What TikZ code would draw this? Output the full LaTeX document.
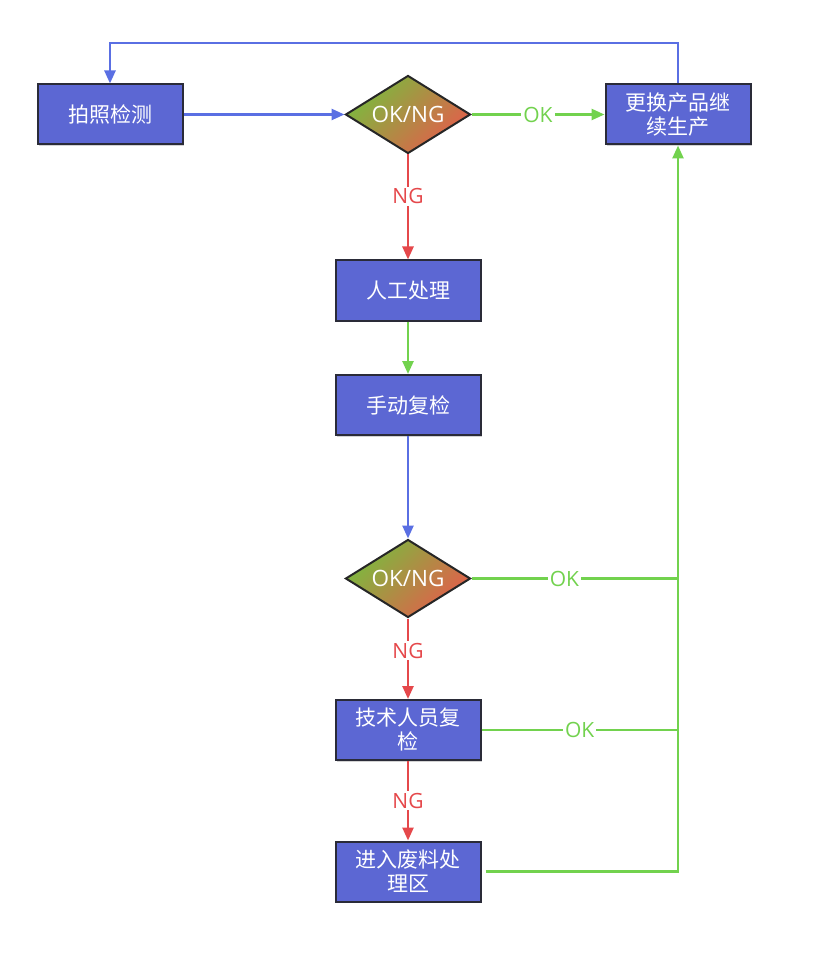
\documentclass[tikz,border=0pt]{standalone}
\usepackage{fontspec}
\setmainfont{Open Sans}
\newfontfamily\cjk{Noto Sans CJK SC}
\usetikzlibrary{arrows.meta,shapes.geometric,shadows}
\definecolor{boxfill}{HTML}{5C67D3}
\definecolor{boxedge}{HTML}{2A2B38}
\definecolor{lblue}{HTML}{5A6FE3}
\definecolor{lgreen}{HTML}{72D24E}
\definecolor{lred}{HTML}{E5484B}
\definecolor{dgreen}{HTML}{7BBA3E}
\definecolor{dorange}{HTML}{E35E4B}
\tikzset{
  procbox/.style={draw=boxedge, line width=2pt, fill=boxfill, text=white,
    minimum width=145pt, minimum height=60pt, align=center, inner sep=2pt,
    font=\cjk\fontsize{21pt}{24pt}\selectfont,
    drop shadow={shadow xshift=1.5pt, shadow yshift=-1.5pt, opacity=0.35}},
  decide/.style={diamond, draw=black!85, line width=2pt, aspect=1.6, inner sep=0pt,
    minimum width=125pt, minimum height=78pt, top color=dgreen, bottom color=dorange,
    shading angle=45, text=white, font=\fontsize{22.5pt}{24pt}\selectfont},
  conn/.style={line width=2.5pt, -{Triangle[length=13pt,width=11pt]}},
  bline/.style={conn, draw=lblue},
  gline/.style={conn, draw=lgreen},
  rline/.style={conn, draw=lred},
  plain/.style={line width=2.5pt, draw=lgreen},
  lbl/.style={fill=white, inner sep=2pt, font=\fontsize{21pt}{24pt}\selectfont}
}
\begin{document}
\begin{tikzpicture}[x=1pt,y=-1pt]
\useasboundingbox (0,0) rectangle (819,957);
\node[procbox] (b1) at (110,114.5) {拍照检测};
\node[decide] (d1) at (408,114.5) {OK/NG};
\node[procbox] (b3) at (678,114.5) {更换产品继\\续生产};
\node[procbox] (b4) at (408,290.5) {人工处理};
\node[procbox] (b5) at (408,405) {手动复检};
\node[decide] (d2) at (408,578.5) {OK/NG};
\node[procbox] (b6) at (408,730) {技术人员复\\检};
\node[procbox] (b7) at (408,871.5) {进入废料处\\理区};
\coordinate (top) at (0,43);
\draw[bline] (b1) -- (d1);
\draw[gline] (d1) -- node[lbl,text=lgreen]{OK} (b3);
\draw[bline] (b3.north) -- (b3.north |- top) -| (b1.north);
\draw[rline] (d1) -- node[lbl,text=lred,pos=0.4]{NG} (b4);
\draw[gline] (b4) -- (b5);
\draw[bline] (b5) -- (d2);
\draw[rline] (d2) -- node[lbl,text=lred,pos=0.4]{NG} (b6);
\draw[rline] (b6) -- node[lbl,text=lred]{NG} (b7);
\coordinate (j2) at (b3.south |- d2.east);
\coordinate (j3) at (b3.south |- b6.east);
\coordinate (j4) at (b3.south |- b7.east);
\draw[plain] (d2.east) -- node[lbl,text=lgreen,pos=0.45]{OK} (j2);
\draw[plain] (b6.east) -- node[lbl,text=lgreen]{OK} (j3);
\draw[gline] ([xshift=4pt]b7.east) -- (j4) -- (b3.south);
\end{tikzpicture}
\end{document}
